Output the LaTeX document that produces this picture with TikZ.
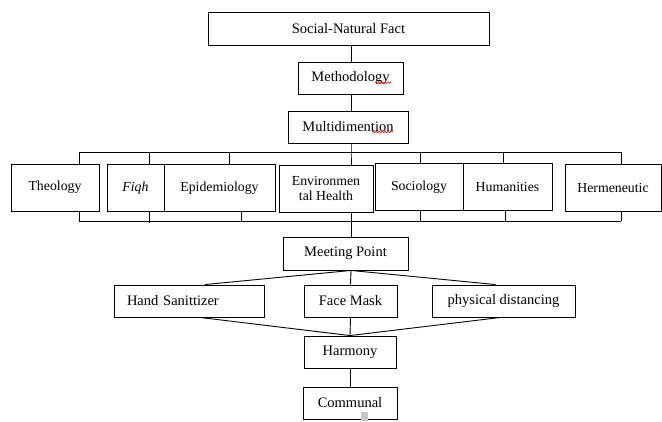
\documentclass[tikz,border=0pt]{standalone}
\usepackage{fontspec}
\setmainfont{Liberation Serif}
\newfontfamily\timesfont{Liberation Serif}
\usepackage{tikz}
\usetikzlibrary{calc}
\usetikzlibrary{decorations.pathmorphing}

\begin{document}
\begin{tikzpicture}[x=1pt, y=-1pt, line width=0.9pt,
    box/.style={draw, inner sep=0pt, minimum height=32pt, font=\timesfont\fontsize{14.5}{15}\selectfont},
    field/.style={draw, inner sep=0pt, minimum height=47pt, align=center, font=\timesfont\fontsize{13.8}{14.5}\selectfont},
    squiggle/.style={red, line width=0.6pt, decorate, decoration={snake, amplitude=0.8pt, segment length=3pt}}]
                \useasboundingbox (0,0) rectangle (662,421);
                \node[box, minimum width=281pt, minimum height=33pt] (fact) at (348.5,28.5) {Social-Natural Fact};
                \node[box, minimum width=105pt] (method) at (350.5,78) {Methodology};
                \node[box, minimum width=120pt] (multi) at (348,127) {Multidimention};
                \node[field, minimum width=88pt] (theo) at (55,187.5) {Theology};
                \node[field, minimum width=57pt] (fiqh) at (135.5,188) {\itshape Fiqh};
                \node[field, minimum width=111pt] (epi) at (219.5,188) {Epidemiology};
                \node[field, minimum width=94pt] (env) at (326,188.5) {Environmen\\tal Health};
                \node[field, minimum width=88pt] (soc) at (419,187) {Sociology};
                \node[field, minimum width=89pt] (hum) at (507.5,187) {Humanities};
                \node[field, minimum width=96pt] (herm) at (613,187.5) {Hermeneutic};
                \node[box, minimum width=125pt, minimum height=33pt] (meet) at (345.5,253.5) {Meeting Point};
                \node[box, text width=124pt, inner xsep=13pt, align=left] (hand) at (189,301) {Hand Sanittizer};
                \node[box, minimum width=93pt] (face) at (350.5,301) {Face Mask};
                \node[box, minimum width=143pt] (phys) at (503.5,301) {physical distancing};
                \node[box, minimum width=92pt] (harm) at (350,352) {Harmony};
                \node[box, minimum width=94pt] (comm) at (350,403) {Communal};

                \coordinate (t1) at (79,152);
                \coordinate (t2) at (149,152);
                \coordinate (t3) at (229,152);
                \coordinate (t4) at (351,152);
                \coordinate (t5) at (420,152);
                \coordinate (t6) at (503,152);
                \coordinate (t7) at (621,152);
                \coordinate (b1) at (79,221);
                \coordinate (b2) at (149,221);
                \coordinate (b3) at (241,221);
                \coordinate (b4) at (351,221);
                \coordinate (b5) at (420,221);
                \coordinate (b6) at (505,221);
                \coordinate (b7) at (621,221);

                \draw (fact.south -| t4) -- (method.north -| t4);
                \draw (method.south -| t4) -- (multi.north -| t4);
                \draw (multi.south -| t4) -- (t4) -- (env.north -| t4);
                \draw (t1) -- (t7);
                \draw (t1) -- (theo.north -| t1);
                \draw (t2) -- (fiqh.north -| t2);
                \draw (t3) -- (epi.north -| t3);
                \draw (t5) -- (soc.north -| t5);
                \draw (t6) -- (hum.north -| t6);
                \draw (t7) -- (herm.north -| t7);

                \draw (b1) -- (b7);
                \draw (theo.south -| b1) -- (b1);
                \draw (fiqh.south -| b2) -- ($(b2)+(0,2)$);
                \draw (epi.south -| b3) -- (b3);
                \draw (env.south -| b4) -- (meet.north -| b4);
                \draw (soc.south -| b5) -- (b5);
                \draw (hum.south -| b6) -- (b6);
                \draw (herm.south -| b7) -- (b7);

                \draw (meet.south -| b4) -- ($(hand.north)+(16,0)$);
                \draw (meet.south -| b4) -- (face.north);
                \draw (meet.south -| b4) -- ($(phys.north)+(-8,0)$);
                \draw ($(hand.south)+(11,0)$) -- (harm.north);
                \draw (face.south) -- (harm.north);
                \draw ($(phys.south)+(-3,0)$) -- (harm.north);
                \draw (harm) -- (comm);

                \draw[squiggle] (375,82.5) -- (391,82.5);
                \draw[squiggle] (372,132) -- (393,132);
                \fill[gray!45] (361,412) rectangle (368,421);
            \end{tikzpicture}
\end{document}
